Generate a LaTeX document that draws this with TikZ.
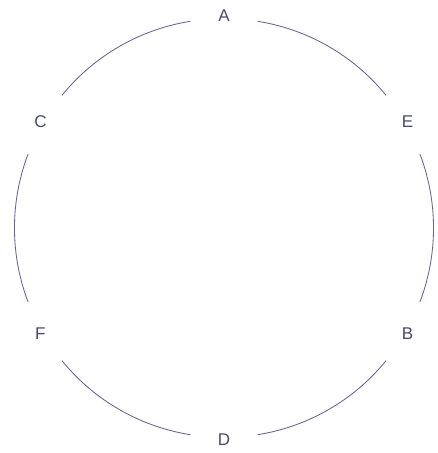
\documentclass[tikz,border=0pt]{standalone}
\usepackage{fontspec}
\setmainfont{Liberation Sans}
\usetikzlibrary{calc}
\definecolor{arccol}{RGB}{100,100,150}
\definecolor{labcol}{RGB}{72,72,112}
\begin{document}
\begin{tikzpicture}[x=1pt,y=1pt,
  lab/.style={circle,minimum size=68pt,inner sep=0pt,text=labcol,font=\fontsize{17}{19}\selectfont},
  rim/.style={draw=arccol,line width=0.85pt,bend left=21,looseness=0.88}]
\useasboundingbox (0,-453) rectangle (438,0);
\coordinate (O) at (224,-228);
\node[lab] (A) at ($(O)+(90:212)$) {A};
\node[lab] (E) at ($(O)+(30:212)$) {E};
\node[lab] (B) at ($(O)+(-30:212)$) {B};
\node[lab] (D) at ($(O)+(-90:212)$) {D};
\node[lab] (F) at ($(O)+(-150:212)$) {F};
\node[lab] (C) at ($(O)+(150:212)$) {C};
\draw[rim] (A) to (E);
\draw[rim] (E) to (B);
\draw[rim] (B) to (D);
\draw[rim] (D) to (F);
\draw[rim] (F) to (C);
\draw[rim] (C) to (A);
\end{tikzpicture}
\end{document}
